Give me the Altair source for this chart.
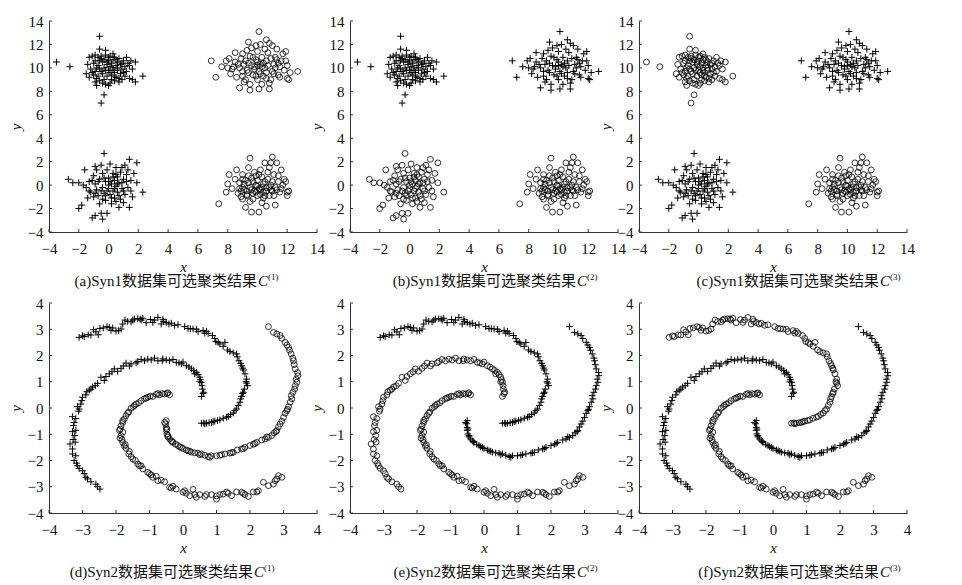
import altair as alt
import pandas as pd

# ---------------- Syn1 data (four Gaussian-like blobs) ------------------------------------
syn1_tl = [(-3.5,10.5),(-2.6,10.1),(-0.6,12.7),(-0.6,11.6),(-0.3,7.7),(-0.5,7.0),(1.8,10.5),(2.3,9.3),(1.8,8.8),
    (-1.3,10.9),(-1.1,11.0),(-0.9,11.1),(-0.5,11.0),(-0.2,11.1),(0.1,11.0),(0.4,10.9),(0.7,10.8),(1.0,10.6),(1.3,10.4),(1.5,10.6),
    (-1.4,10.3),(-1.0,10.4),(-0.7,10.2),(-0.4,10.5),(-0.1,10.3),(0.2,10.4),(0.5,10.2),(0.8,10.3),(1.1,10.1),(1.4,10.2),
    (-1.2,9.9),(-0.9,9.7),(-0.6,9.9),(-0.3,10.0),(0.0,9.8),(0.3,10.0),(0.6,9.8),(0.9,9.9),(1.2,9.7),(-0.8,10.0),(0.1,10.1),(0.4,9.6),
    (-1.3,9.2),(-1.0,9.4),(-0.7,9.3),(-0.4,9.5),(-0.1,9.3),(0.2,9.4),(0.5,9.2),(0.8,9.5),(1.1,9.3),(1.4,9.1),(1.6,9.0),
    (-0.9,8.8),(-0.6,8.9),(-0.2,8.6),(0.1,8.7),(0.4,8.9),(0.7,8.8),(-0.8,8.5),(0.0,8.5),
    (-0.3,9.0),(0.6,10.5),(-0.5,10.8),(0.9,9.0),(0.3,11.2),(-0.2,11.5),
    (-0.9,10.6),(-0.6,10.6),(-0.3,10.7),(0.0,10.6),(0.3,10.7),(0.6,10.0),(0.9,10.4),(1.2,10.9),(-1.1,9.6),(-0.8,9.1),
    (-0.5,9.7),(-0.2,9.8),(0.1,9.6),(0.4,9.3),(0.7,9.1),(1.0,9.6),(-0.4,8.7),(0.2,9.0),(0.5,10.7),(0.0,10.9),
    (-1.5,9.5),(1.6,9.9),(-0.1,10.5),(0.3,9.8),(-0.7,10.9)]
syn1_tr = [(6.9,10.6),(7.2,9.2),(10.1,13.1),(12.7,9.7),(12.0,9.1),(11.9,11.4),(10.1,8.2),(8.8,8.3),(10.8,8.2),(9.5,8.1),
    (7.6,10.1),(7.9,10.6),(8.1,10.8),(8.3,9.9),(8.5,10.5),(8.2,9.5),(8.6,9.2),(8.8,10.0),(8.9,10.8),(9.0,11.2),
    (9.2,9.0),(9.3,9.8),(9.4,10.4),(9.5,11.0),(9.6,11.7),(9.5,8.6),(9.7,9.4),(9.8,10.1),(9.9,10.7),(10.0,11.4),
    (10.2,12.0),(10.0,9.0),(10.1,9.7),(10.2,10.3),(10.3,10.9),(10.4,9.3),(10.5,10.0),(10.6,10.6),(10.7,11.3),(10.8,12.1),
    (10.9,9.0),(11.0,9.7),(11.1,10.3),(11.2,10.9),(11.3,11.6),(11.4,9.4),(11.5,10.1),(11.6,10.6),(11.8,9.8),(12.0,10.2),
    (9.1,10.3),(9.8,9.9),(10.3,10.1),(10.0,10.2),(10.6,9.6),(9.4,9.6),(11.0,11.9),(8.5,11.3),(12.1,9.0),(10.8,8.7),
    (9.9,11.9),(9.0,9.3),(11.5,9.2),(8.0,10.0),(11.3,10.7),
    (8.7,10.3),(9.0,9.7),(9.2,10.6),(9.3,11.5),(9.6,10.2),(9.7,10.9),(9.9,9.3),(10.0,10.5),(10.2,9.5),(10.4,10.4),
    (10.5,11.6),(10.6,9.1),(10.7,10.2),(10.9,10.8),(11.1,9.5),(11.2,10.0),(11.4,10.4),(11.7,11.2),(12.2,9.6),(8.4,10.1),
    (9.1,8.8),(10.3,8.6),(11.9,10.6),(9.4,12.2),(10.6,12.4)]
syn1_bl = [(-2.7,0.5),(-2.4,0.2),(-2.0,0.2),(-2.0,-2.0),(-1.8,-1.7),(-1.6,1.3),(-1.4,-1.1),(-1.1,-2.8),(-0.9,-2.6),(-0.4,-2.9),
    (-0.5,-2.4),(-0.3,2.7),(1.4,2.2),(1.9,1.9),(2.3,-0.6),(1.9,0.2),(-0.1,-2.4),
    (-1.5,-0.2),(-1.3,0.3),(-1.2,-0.6),(-1.0,0.8),(-1.0,-1.0),(-0.9,0.1),(-0.8,-0.4),(-0.7,-0.9),(-0.6,0.5),(-0.5,1.7),
    (-0.4,-0.2),(-0.4,1.0),(-0.3,-0.7),(-0.2,0.3),(-0.2,-1.3),(-0.1,1.3),
    (0.0,-0.3),(0.0,0.6),(0.1,-0.8),(0.1,1.8),(0.2,0.1),(0.3,-0.5),(0.3,1.0),(0.4,-1.1),(0.4,0.4),(0.5,-0.1),(0.5,1.5),
    (0.6,0.7),(0.6,-0.6),(0.7,0.2),(0.8,-1.2),(0.8,1.1),(0.9,-0.3),(1.0,0.5),(1.0,-1.5),(1.1,-0.8),(1.2,0.9),(1.3,-0.2),
    (1.4,-1.9),(1.5,0.4),(1.6,-1.0),(1.7,1.0),(1.1,1.7),(-0.6,-1.6),(-1.3,-0.5),(0.2,-1.6),(-0.8,1.3),(0.7,-1.9),
    (-1.1,0.4),(-0.9,-0.7),(-0.7,0.3),(-0.5,-0.5),(-0.3,0.6),(-0.1,-0.5),(0.1,0.3),(0.2,-1.1),(0.3,0.7),(0.4,-0.3),
    (0.5,0.9),(0.6,0.1),(0.7,-0.9),(0.9,0.2),(1.0,-0.5),(1.2,0.3),(1.3,1.3),(-0.2,-0.9),(0.0,0.0),(0.5,-1.4),
    (-1.7,0.0),(-0.9,1.6),(0.9,1.5),(1.5,-0.5),(-0.4,-1.2)]
syn1_br = [(7.4,-1.6),(7.9,-0.6),(8.1,0.9),(8.0,0.1),(8.3,-0.3),(8.5,0.5),(8.6,1.3),(8.7,-0.7),(8.8,0.2),(8.9,-1.0),
    (9.0,0.9),(9.1,-0.4),(9.2,-1.9),(9.2,0.4),(9.3,-0.8),(9.4,1.5),(9.5,2.3),(9.5,-0.2),(9.6,-2.3),(9.6,0.6),
    (9.7,-1.2),(9.8,-0.5),(9.8,1.1),(9.9,0.0),(10.0,-0.9),(10.0,0.4),(10.1,-2.3),(10.1,-0.3),(10.2,1.3),(10.3,-1.5),
    (10.3,0.7),(10.4,-0.6),(10.4,0.1),(10.5,1.9),(10.6,-0.2),(10.6,-1.8),(10.7,0.5),(10.8,-0.9),(10.8,1.5),(10.9,0.0),
    (11.0,2.4),(11.0,-0.5),(11.1,0.9),(11.2,-1.7),(11.2,-0.2),(11.3,1.9),(11.4,0.3),(11.5,-0.6),(11.6,1.3),(11.7,0.0),
    (11.8,0.5),(12.0,-0.6),(12.0,-0.9),(12.1,-0.5),(9.0,-0.2),(9.4,0.2),(9.7,-0.7),(10.2,-0.4),(10.5,-0.9),(9.9,0.8),
    (10.9,-0.4),(9.3,-0.5),(8.9,-0.5),(9.0,-1.2),
    (8.8,-0.3),(9.1,0.1),(9.3,-0.9),(9.4,0.8),(9.6,-0.4),(9.7,0.3),(9.9,-0.6),(10.0,-0.1),(10.1,0.9),(10.2,-0.8),
    (10.3,-0.2),(10.5,0.3),(10.6,-0.5),(10.7,1.1),(10.8,-0.2),(11.0,0.3),(11.1,-0.9),(11.3,-0.4),(11.4,0.8),(11.6,-0.3),
    (9.5,-1.4),(10.4,-1.1),(10.9,1.9),(9.0,0.5),(11.9,0.3)]

# ---------------- Syn2 data (four spiral arms) ------------------------------------
arm1 = [(0.55,0.44),(0.6,0.55),(0.58,0.72),(0.57,0.85),(0.55,0.98),(0.52,1.08),(0.5,1.17),(0.45,1.27),(0.4,1.36),(0.32,1.43),
    (0.25,1.49),(0.18,1.56),(0.1,1.61),(-0.05,1.68),(-0.12,1.72),(-0.2,1.74),(-0.4,1.8),(-0.5,1.83),(-0.6,1.87),(-0.62,1.8),
    (-0.75,1.8),(-0.95,1.83),(-1.05,1.86),(-1.15,1.8),(-1.35,1.77),(-1.4,1.72),(-1.55,1.68),(-1.7,1.71),(-1.78,1.6),(-1.85,1.51),
    (-2.05,1.49),(-2.12,1.38),(-2.2,1.3),(-2.3,1.2),(-2.45,1.17),(-2.55,0.94),(-2.62,0.85),(-2.75,0.72),(-2.8,0.68),(-2.87,0.62),
    (-3.0,0.41),(-3.02,0.28),(-3.05,0.15),(-3.1,-0.04),(-3.12,-0.12),(-3.3,-0.33),(-3.25,-0.55),(-3.27,-0.67),(-3.2,-0.85),(-3.23,-1.05),
    (-3.28,-1.2),(-3.37,-1.37),(-3.3,-1.56),(-3.2,-1.82),(-3.25,-2.0),(-3.18,-2.1),(-3.15,-2.2),(-3.0,-2.39),(-2.95,-2.5),(-2.9,-2.64),
    (-2.75,-2.81),(-2.6,-2.9),(-2.48,-3.09),
    (0.62,0.6),(0.5,1.0),(0.35,1.3),(0.0,1.75),(-0.3,1.85),(-0.85,1.9),(-1.25,1.85),(-1.6,1.6),(-1.95,1.4),(-2.35,1.05),
    (-2.7,0.8),(-2.9,0.5),(-3.15,0.05),(-3.2,-0.4),(-3.3,-0.9),(-3.22,-1.3),(-3.3,-1.75),(-3.1,-2.3),(-2.85,-2.7),(-2.55,-3.0)]
arm2 = [(-3.1,2.69),(-2.95,2.72),(-2.83,2.79),(-2.75,2.78),(-2.67,2.98),(-2.53,2.79),(-2.48,3.03),(-2.38,3.05),(-2.27,3.10),(-2.2,3.07),
    (-2.15,2.96),(-2.0,2.93),(-1.92,2.95),(-1.85,3.01),(-1.73,3.35),(-1.65,3.30),(-1.55,3.28),(-1.45,3.39),(-1.35,3.40),(-1.28,3.39),
    (-1.25,3.35),(-1.1,3.25),(-0.97,3.37),(-0.9,3.26),(-0.75,3.45),(-0.65,3.2),(-0.58,3.3),(-0.5,3.26),(-0.42,3.2),(-0.35,3.23),
    (-0.15,3.17),(0.15,3.03),(0.22,3.02),(0.3,3.01),(0.45,2.91),(0.6,2.95),(0.7,2.92),(0.75,2.84),(0.88,2.76),(0.98,2.53),
    (1.05,2.5),(1.1,2.44),(1.25,2.5),(1.33,2.21),(1.4,2.15),(1.6,2.06),(1.62,1.95),(1.67,1.8),(1.72,1.7),(1.75,1.61),
    (1.8,1.45),(1.85,1.3),(1.9,1.1),(1.88,1.0),(1.93,0.85),(1.83,0.72),(1.8,0.6),(1.75,0.44),(1.72,0.35),(1.7,0.22),
    (1.6,-0.04),(1.55,-0.1),(1.5,-0.19),(1.42,-0.25),(1.35,-0.32),(1.2,-0.39),(1.1,-0.45),(1.03,-0.48),(0.95,-0.5),(0.85,-0.55),
    (0.78,-0.56),(0.7,-0.58),(0.62,-0.57),(0.55,-0.58),
    (-3.0,2.75),(-2.6,2.9),(-2.1,3.05),(-1.8,3.2),(-1.5,3.35),(-1.2,3.42),(-0.85,3.35),(-0.6,3.38),(-0.25,3.15),(0.05,3.1),
    (0.4,3.0),(0.65,2.85),(0.95,2.65),(1.2,2.35),(1.5,2.1),(1.78,1.52),(1.9,0.95),(1.78,0.55),(1.65,0.1),(1.3,-0.35),
    (0.9,-0.52),(0.65,-0.6)]
arm3 = [(-0.4,0.5),(-0.48,0.55),(-0.55,0.53),(-0.62,0.55),(-0.7,0.5),(-0.8,0.52),(-0.9,0.44),(-0.98,0.45),(-1.05,0.41),(-1.15,0.35),
    (-1.25,0.28),(-1.32,0.2),(-1.4,0.15),(-1.48,0.05),(-1.55,-0.01),(-1.62,-0.15),(-1.7,-0.29),(-1.75,-0.42),(-1.8,-0.55),(-1.85,-0.68),
    (-1.87,-0.8),(-1.8,-0.92),(-1.85,-1.05),(-1.82,-1.2),(-1.8,-1.31),(-1.72,-1.4),(-1.7,-1.54),(-1.62,-1.75),(-1.55,-1.85),(-1.5,-1.94),
    (-1.42,-2.0),(-1.35,-2.13),(-1.25,-2.2),(-1.2,-2.32),(-1.05,-2.45),(-0.95,-2.55),(-0.9,-2.64),(-0.8,-2.6),(-0.75,-2.77),(-0.55,-2.81),
    (-0.4,-3.02),(-0.3,-2.98),(-0.2,-3.09),(0.0,-3.21),(0.1,-3.25),(0.2,-3.34),(0.3,-3.1),(0.4,-3.4),(0.5,-3.3),(0.65,-3.37),
    (0.85,-3.3),(1.0,-3.47),(1.1,-3.3),(1.2,-3.28),(1.3,-3.2),(1.45,-3.34),(1.6,-3.2),(1.75,-3.21),(1.85,-3.3),(1.95,-3.37),
    (2.1,-3.2),(2.25,-3.15),(2.4,-2.83),(2.55,-2.96),(2.7,-2.9),(2.75,-2.77),(2.85,-2.58),(2.95,-2.64),
    (-0.45,0.58),(-0.75,0.55),(-1.1,0.38),(-1.45,0.1),(-1.65,-0.2),(-1.8,-0.48),(-1.9,-0.85),(-1.88,-1.15),(-1.75,-1.45),(-1.6,-1.65),
    (-1.3,-2.2),(-1.0,-2.5),(-0.65,-2.75),(-0.35,-3.05),(0.05,-3.15),(0.35,-3.3),(0.7,-3.3),(1.0,-3.35),(1.35,-3.25),(1.8,-3.25),
    (2.2,-3.2),(2.8,-2.7)]
arm4 = [(-0.5,-0.48),(-0.52,-0.6),(-0.5,-0.74),(-0.5,-0.85),(-0.48,-0.99),(-0.45,-1.1),(-0.4,-1.18),(-0.35,-1.25),(-0.3,-1.31),(-0.22,-1.38),
    (-0.15,-1.43),(-0.05,-1.5),(0.0,-1.54),(0.1,-1.6),(0.15,-1.63),(0.25,-1.68),(0.35,-1.71),(0.45,-1.72),(0.55,-1.75),(0.65,-1.8),
    (0.75,-1.85),(0.85,-1.82),(1.0,-1.82),(1.15,-1.78),(1.25,-1.75),(1.4,-1.72),(1.5,-1.69),(1.62,-1.6),(1.75,-1.56),(1.85,-1.5),
    (2.0,-1.43),(2.1,-1.38),(2.2,-1.31),(2.35,-1.22),(2.45,-1.18),(2.55,-1.12),(2.65,-1.05),(2.72,-0.95),(2.8,-0.86),(2.85,-0.72),
    (2.9,-0.61),(3.0,-0.36),(3.05,-0.2),(3.1,-0.1),(3.15,0.05),(3.2,0.22),(3.23,0.47),(3.28,0.6),(3.33,0.72),(3.4,0.98),
    (3.38,1.1),(3.43,1.23),(3.35,1.49),(3.32,1.65),(3.3,1.8),(3.23,2.06),(3.18,2.2),(3.15,2.31),(3.05,2.5),(2.95,2.65),
    (2.9,2.76),(2.7,2.88),(2.55,3.1),
    (-0.55,-0.55),(-0.48,-0.8),(-0.45,-1.05),(-0.32,-1.28),(-0.1,-1.48),(0.2,-1.65),(0.5,-1.78),(0.8,-1.88),(1.1,-1.8),(1.45,-1.7),
    (1.8,-1.55),(2.15,-1.35),(2.5,-1.1),(2.78,-0.9),(2.95,-0.5),(3.12,-0.05),(3.25,0.35),(3.35,0.85),(3.42,1.35),(3.28,1.9),
    (3.1,2.4),(2.8,2.82)]

# cluster assignments per panel ('+' or 'o')
syn1_groups = [syn1_tl, syn1_tr, syn1_bl, syn1_br]
syn1_labels = {"a": ["+", "o", "+", "o"], "b": ["+", "+", "o", "o"], "c": ["o", "+", "+", "o"]}
syn2_groups = [arm1, arm2, arm3, arm4]
syn2_labels = {"d": ["+", "+", "o", "o"], "e": ["o", "+", "o", "+"], "f": ["+", "o", "o", "+"]}

syn1_ticks = [-4, -2, 0, 2, 4, 6, 8, 10, 12, 14]
syn2_ticks = [-4, -3, -2, -1, 0, 1, 2, 3, 4]

captions = {
    "a": ("(a)Syn1数据集可选聚类结果", "(1)"), "b": ("(b)Syn1数据集可选聚类结果", "(2)"),
    "c": ("(c)Syn1数据集可选聚类结果", "(3)"), "d": ("(d)Syn2数据集可选聚类结果", "(1)"),
    "e": ("(e)Syn2数据集可选聚类结果", "(2)"), "f": ("(f)Syn2数据集可选聚类结果", "(3)"),
}

PW = 268          # drawn axis length of every panel
SERIF = "Liberation Serif"
CAPFONT = "Liberation Serif, Noto Sans CJK SC"
INK = "#111111"
PLUS = "M-1,0H1M0,-1V1"


def make_df(groups, labels):
    rows = []
    for pts, lab in zip(groups, labels):
        for x, y in pts:
            rows.append({"x": x, "y": y, "m": lab})
    return pd.DataFrame(rows)


def panel(df, ticks, W, H, key, cap_left, cap_y, title_pad):
    dom = [ticks[0], ticks[-1]]
    xs = alt.Scale(domain=dom, nice=False, zero=False, range=[0, PW])
    ys = alt.Scale(domain=dom, nice=False, zero=False)
    common = dict(tickSize=0, labelFlush=False, labelOverlap=False,
                  labelFont=SERIF, labelFontSize=15, labelColor=INK, domainColor="#333333",
                  domainWidth=1, grid=False, titleFont=SERIF, titleFontStyle="italic",
                  titleFontWeight="normal", titleFontSize=15, titleColor=INK, format="d")
    xax = alt.Axis(values=ticks, labelPadding=9, titlePadding=title_pad, **common)
    yax = alt.Axis(values=ticks, labelPadding=6, titlePadding=4, **common)
    X = alt.X("x:Q", scale=xs, axis=xax, title="x")
    Y = alt.Y("y:Q", scale=ys, axis=yax, title="y")
    base = alt.Chart(df)
    plus = base.transform_filter(alt.datum.m == "+").mark_point(
        shape=PLUS, size=46, filled=False, stroke="#000000", strokeWidth=1, opacity=1).encode(x=X, y=Y)
    circ = base.transform_filter(alt.datum.m == "o").mark_point(
        shape="circle", size=34, filled=False, stroke="#000000", strokeWidth=0.8, opacity=1).encode(x=X, y=Y)
    tdf = pd.DataFrame({"v": ticks})
    xt = alt.Chart(tdf).mark_rule(color="#333333", strokeWidth=1).encode(
        x=alt.X("v:Q", scale=xs, axis=xax, title="x"), y=alt.value(H), y2=alt.value(H - 3))
    yt = alt.Chart(tdf).mark_rule(color="#333333", strokeWidth=1).encode(
        y=alt.Y("v:Q", scale=ys, axis=yax, title="y"), x=alt.value(0), x2=alt.value(3))
    main, sup = captions[key]
    anchor = cap_left + 182
    cdf = pd.DataFrame({"t": [main], "c": ["C"], "s": [sup]})
    cap1 = alt.Chart(cdf).mark_text(font=CAPFONT, fontSize=15, color=INK, align="right",
                                    baseline="middle").encode(
        text="t:N", x=alt.value(anchor), y=alt.value(H + cap_y))
    cap2 = alt.Chart(cdf).mark_text(font=SERIF, fontSize=15, fontStyle="italic", color=INK,
                                    align="left", baseline="middle").encode(
        text="c:N", x=alt.value(anchor + 1), y=alt.value(H + cap_y))
    cap3 = alt.Chart(cdf).mark_text(font=SERIF, fontSize=9, color=INK, align="left",
                                    baseline="middle").encode(
        text="s:N", x=alt.value(anchor + 11), y=alt.value(H + cap_y - 4))
    return alt.layer(xt, yt, circ, plus, cap1, cap2, cap3).properties(width=W, height=H)


# first column is wider (extra empty room on the right) so that the panel gaps match
pa = panel(make_df(syn1_groups, syn1_labels["a"]), syn1_ticks, 280, 211, "a", 26, 49, 3)
pb = panel(make_df(syn1_groups, syn1_labels["b"]), syn1_ticks, 268, 211, "b", 44, 49, 3)
pc = panel(make_df(syn1_groups, syn1_labels["c"]), syn1_ticks, 268, 211, "c", 58, 49, 3)
pd_ = panel(make_df(syn2_groups, syn2_labels["d"]), syn2_ticks, 280, 210, "d", 22, 59, 3)
pe = panel(make_df(syn2_groups, syn2_labels["e"]), syn2_ticks, 268, 210, "e", 44, 59, 3)
pf = panel(make_df(syn2_groups, syn2_labels["f"]), syn2_ticks, 268, 210, "f", 58, 59, 3)

chart = alt.concat(pa, pb, pc, pd_, pe, pf, columns=3,
                   spacing=alt.RowColnumber(row=71, column=21), bounds="flush").properties(
    padding={"left": 0, "top": 6, "right": 5, "bottom": 5}, background="white"
).configure_view(stroke=None)

chart.save("out.html", embed_options={"renderer": "svg", "actions": False})
